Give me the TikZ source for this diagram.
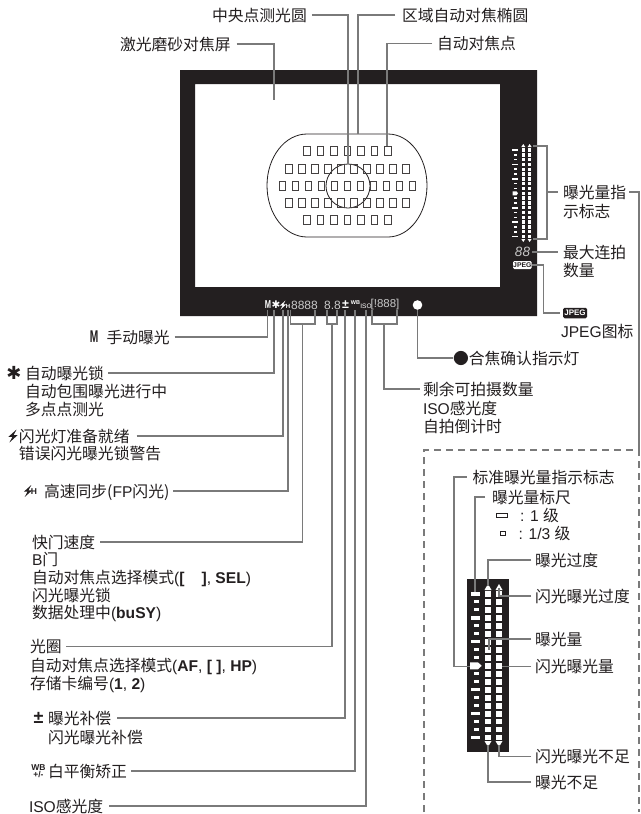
\documentclass[tikz,border=0pt]{standalone}
\usepackage{fontspec}
\setmainfont{Liberation Sans}
\newfontfamily\cjk{Noto Sans CJK SC}
\newfontfamily\dejavu{DejaVu Sans}
\newcommand{\C}[1]{{\cjk\fontsize{15.8}{18}\selectfont #1}}
\newcommand{\mybar}[5][white]{\fill[#1] ({#2-#4/2},{#3-#5/2}) rectangle ({#2+#4/2},{#3+#5/2});}
\newcommand{\mybolt}[4][ink]{\fill[#1] ({#2+.55*#4},{#3-#4}) -- ({#2-.7*#4},{#3+.12*#4}) -- ({#2-.08*#4},{#3+.12*#4}) -- ({#2-.55*#4},{#3+#4}) -- ({#2+.7*#4},{#3-.12*#4}) -- ({#2+.08*#4},{#3-.12*#4}) -- cycle;}
\definecolor{ink}{HTML}{231F20}
\definecolor{wire}{HTML}{7A7A7A}
\definecolor{seg}{HTML}{C8C8C8}
\tikzset{
  lab/.style={anchor=west,inner sep=0pt,outer sep=0pt,text=ink,text height=13.9pt,text depth=1.9pt,
    font=\fontsize{15.6}{18}\selectfont},
  conn/.style={draw=wire,line width=1.2pt},
  icon/.style={inner sep=0pt,outer sep=0pt,text=ink},
  lcd/.style={inner sep=0pt,outer sep=0pt,text=seg,font=\fontsize{12}{12}\selectfont},
  lcdw/.style={inner sep=0pt,outer sep=0pt,text=white},
  afp/.style={draw=ink!85,line width=.8pt},
}
\begin{document}
\begin{tikzpicture}[x=1pt,y=-1pt]
\useasboundingbox (0,0) rectangle (640,814);
\fill[white] (0,0) rectangle (640,814);
% viewfinder frame
\fill[ink,even odd rule] (180,70) rectangle (537,316) (195,84) rectangle (500,287);
% oval and points
\draw[ink,line width=.8pt] (307,134) -- (388,134) arc[start angle=-90,end angle=90,x radius=39,y radius=51.5]
   -- (307,237) arc[start angle=90,end angle=270,x radius=40,y radius=51.5] -- cycle;
\node[circle,draw=ink,line width=.8pt,minimum size=44pt,inner sep=0pt,outer sep=0pt] (circ) at (348,186) {};
\foreach \r/\n/\s in {151/7/307,169/10/289,186/11/282.3,203/10/289,220/7/307}{
  \foreach \i in {1,...,\n}{
    \draw[afp] ({\s+(\i-1)*(\n==7?13.45:13)-3.2},\r-4.8) rectangle ++(6.4,9.6);
  }
}
\coordinate (ovalTop) at (358,134);
\coordinate (afPt) at (387,146);
\coordinate (screen) at (274,100);
% meter in frame
\foreach \i in {0,...,18}{
  \pgfmathsetmacro\yy{150+4.81*\i}
  \pgfmathtruncatemacro\m{mod(\i,3)}
  \mybar{523.3}{\yy}{3.6}{3.4}
  \mybar{529.6}{\yy}{3.6}{3.4}
  \ifnum\i=9\relax
    \fill[white] (512.5,\yy-2) -- (516.5,\yy-2) -- (518,\yy) -- (516.5,\yy+2) -- (512.5,\yy+2) -- cycle;
  \else
    \ifnum\m=0\relax \mybar{515}{\yy}{5.4}{1.8} \else \mybar{515.5}{\yy}{3}{1.6} \fi
  \fi
}
\foreach \xx in {523.3,529.6}{
  \fill[white] (\xx-2,147) -- (\xx,144) -- (\xx+2,147) -- cycle;
  \fill[white] (\xx-2,239) -- (\xx,242) -- (\xx+2,239) -- cycle;
}
\node[lcd,font=\fontsize{13.5}{13.5}\selectfont\itshape] (iBurst) at (522.5,252) {88};
\node[fill=white,rounded corners=1.2pt,inner sep=0pt,minimum width=18.5pt,minimum height=8pt,text=ink,
   font=\fontsize{6.8}{7}\selectfont\bfseries] (iJpeg) at (522.3,265) {JPEG};
% bottom LCD
\node[lcdw,font=\fontsize{11.5}{10}\selectfont\bfseries] (iM) at (268,305) {\scalebox{.65}[1]{M}};
\node[lcdw,font=\dejavu\fontsize{10.5}{9}\selectfont] (iStar) at (276,305) {✱};
\mybolt[white]{283}{305}{4.5}
\node[lcdw,font=\fontsize{6}{6}\selectfont\bfseries] (iH) at (288,306.5) {H};
\node[lcd] (iShut) at (304.5,305) {8888};
\node[lcd] (iAper) at (332.5,305) {8.8};
\node[lcdw,font=\fontsize{12.5}{11}\selectfont\bfseries] (iComp) at (345.5,305) {±};
\node[lcdw,font=\fontsize{5.5}{5.5}\selectfont\bfseries] (iWB) at (355.5,303) {WB};
\node[lcdw,font=\fontsize{6.5}{6.5}\selectfont] (iIso) at (366,306) {ISO};
\node[lcd,font=\fontsize{11.5}{11.5}\selectfont] (iCnt) at (385,305) {[!888]};
\node[circle,fill=white,minimum size=9.6pt,inner sep=0pt,outer sep=0pt] (iDot) at (417.5,305) {};
% anchor coordinates on the frame
\coordinate (cM) at (267.5,310);
\coordinate (cStar) at (274,310);
\coordinate (cFlash) at (283,310);
\coordinate (cH) at (288,310);
\coordinate (cShutL) at (290.7,310);
\coordinate (cShutR) at (315,310);
\coordinate (cShutM) at (302.5,324);
\coordinate (cAperL) at (327,310);
\coordinate (cAperR) at (337,310);
\coordinate (cAperM) at (332,324);
\coordinate (cComp) at (345,310);
\coordinate (cWB) at (355,310);
\coordinate (cIso) at (366,310);
\coordinate (cCntL) at (372,310);
\coordinate (cCntR) at (397,310);
\coordinate (cCntM) at (384,324);
\coordinate (mTop) at (533,146);
\coordinate (mBot) at (533,239);
\coordinate (mMid) at (547,192);
% top labels
\node[lab] (lMetC) at (212,15) {\C{中央点测光圆}};
\node[lab] (lZone) at (402,15) {\C{区域自动对焦椭圆}};
\node[lab] (lAf) at (437,43.5) {\C{自动对焦点}};
\node[lab] (lScr) at (120,44) {\C{激光磨砂对焦屏}};
\draw[conn] ([xshift=5pt]lMetC.east) -| (circ.north);
\draw[conn] ([xshift=-7pt]lZone.west) -| (ovalTop);
\draw[conn] ([xshift=-5pt]lAf.west) -| (afPt);
\draw[conn] ([xshift=6pt]lScr.east) -| (screen);
% right labels
\node[lab] (lExp) at (563,192) {\C{曝光量指}};
\node[lab] at (563,211) {\C{示标志}};
\node[lab] (lBurst) at (563,252) {\C{最大连拍}};
\node[lab] at (563,270) {\C{数量}};
\node[fill=ink,rounded corners=1.5pt,inner sep=0pt,minimum width=24pt,minimum height=10.5pt,text=white,
   font=\fontsize{8}{8}\selectfont\bfseries] (lJpegI) at (575,313) {JPEG};
\node[lab] at (561,331) {JPEG\C{图标}};
\draw[conn] (mTop) -| (mMid) |- (mBot);
\draw[conn] (mMid) -- ([xshift=-5pt]lExp.west);
\draw[conn] (iBurst.east |- lBurst.west) ++(2pt,0) -- ([xshift=-5pt]lBurst.west);
\draw[conn] (iJpeg.east) -- ++(12pt,0) |- ([xshift=-3pt]lJpegI.west);
% exposure label to inset
\coordinate (dashTR) at (639,450);
\draw[conn] ([xshift=3pt]lExp.east) -| (dashTR);
\draw[wire,line width=1.1pt,dash pattern=on 7pt off 5pt] (424,812) -- (424,450) -- (dashTR) -- (639,812);
% left labels
\node[icon,font=\fontsize{17}{14}\selectfont\bfseries] (iMl) at (94,337) {\scalebox{.6}[1]{M}};
\node[lab] (lM) at (106.5,337) {\C{手动曝光}};
\draw[conn] ([xshift=5pt]lM.east) -| (cM);
\node[icon,font=\dejavu\fontsize{18}{14}\selectfont] (iSl) at (14,372.5) {✱};
\node[lab] (lAe) at (25,373) {\C{自动曝光锁}};
\node[lab] at (25,391) {\C{自动包围曝光进行中}};
\node[lab] at (25,409) {\C{多点点测光}};
\draw[conn] ([xshift=4pt]lAe.east) -| (cStar);
\mybolt{13}{436}{6.5}
\node[lab] (lFl) at (19,436) {\C{闪光灯准备就绪}};
\node[lab] at (19,453) {\C{错误闪光曝光锁警告}};
\draw[conn] ([xshift=7pt]lFl.east) -| (cFlash);
\mybolt{28}{491}{6}
\node[icon,font=\fontsize{8.5}{8}\selectfont\bfseries] (iFpH) at (34,492) {H};
\node[lab] (lFp) at (44,491) {\C{高速同步(}FP\C{闪光)}};
\draw[conn] ([xshift=4pt]lFp.east) -| (cH);
\node[lab] (lTv) at (32,542) {\C{快门速度}};
\node[lab] at (32,559.5) {B\C{门}};
\node[lab] at (32,577) {\C{自动对焦点选择模式}(\textbf{[}\hspace{17pt}\textbf{]}, \textbf{SEL})};
\node[lab] at (32,595) {\C{闪光曝光锁}};
\node[lab] at (32,612.5) {\C{数据处理中}(\textbf{buSY})};
\draw[conn] ([xshift=5pt]lTv.east) -| (cShutM);
\node[lab] (lAv) at (30,646.5) {\C{光圈}};
\node[lab] at (30,665.5) {\C{自动对焦点选择模式}(\textbf{AF}, \textbf{[ ]}, \textbf{HP})};
\node[lab] at (30,683) {\C{存储卡编号}(\textbf{1}, \textbf{2})};
\draw[conn] ([xshift=4.5pt]lAv.east) -| (cAperM);
\node[icon,font=\fontsize{18}{15}\selectfont\bfseries] (iCl) at (38.5,718) {±};
\node[lab] (lCo) at (48,718) {\C{曝光补偿}};
\node[lab] at (48,737) {\C{闪光曝光补偿}};
\draw[conn] ([xshift=6pt]lCo.east) -| (cComp);
\node[icon,font=\fontsize{8.5}{7.5}\selectfont\bfseries,align=center] (iWl) at (38.5,771) {WB\\+/-};
\node[lab] (lWb) at (48,771) {\C{白平衡矫正}};
\draw[conn] ([xshift=4pt]lWb.east) -| (cWB);
\node[lab] (lIso) at (29,806) {ISO\C{感光度}};
\draw[conn] ([xshift=6pt]lIso.east) -| (cIso);
% brackets under the LCD
\draw[conn] (cShutL) |- (cShutM) -| (cShutR);
\draw[conn] (cAperL) |- (cAperM) -| (cAperR);
\draw[conn] (cCntL) |- (cCntM) -| (cCntR);
% lower right labels
\node[lab] (lCnt) at (423,389) {\C{剩余可拍摄数量}};
\node[lab] at (423,408) {ISO\C{感光度}};
\node[lab] at (423,426.5) {\C{自拍倒计时}};
\draw[conn] ([xshift=-3pt]lCnt.west) -| (cCntM);
\node[lab] (lFoc) at (453,358) {\C{●合焦确认指示灯}};
\draw[conn] (iDot.south) |- (lFoc.west);
% inset
\fill[ink] (466.7,579) rectangle (509,751.7);
\foreach \i in {0,...,18}{
  \pgfmathsetmacro\yy{594+7.98*\i}
  \pgfmathtruncatemacro\m{mod(\i,3)}
  \mybar{488}{\yy}{5.6}{5.6}
  \mybar{499}{\yy}{5.6}{5.6}
  \ifnum\i=9\relax
    \fill[white] (470,\yy-3.5) -- (478,\yy-3.5) -- (481.7,\yy) -- (478,\yy+3.5) -- (470,\yy+3.5) -- cycle;
  \else
    \ifnum\m=0\relax \mybar{475}{\yy}{9}{3.2} \else \mybar{476.5}{\yy}{4.6}{3} \fi
  \fi
}
\foreach \xx in {488,499}{
  \fill[white] (\xx-3.5,590) -- (\xx,584) -- (\xx+3.5,590) -- cycle;
  \fill[white] (\xx-3.5,741) -- (\xx,747) -- (\xx+3.5,741) -- cycle;
}
\coordinate (tStd) at (470,666.5);
\coordinate (tScale) at (475,592);
\coordinate (tOver) at (488,586);
\coordinate (tFOver) at (499,588);
\coordinate (tFOverC) at (499,596);
\coordinate (tQty) at (489,650);
\coordinate (tFQty) at (501.5,666.5);
\coordinate (tFUnder) at (499,745);
\coordinate (tUnder) at (488,745);
\node[lab] (lStd) at (472.5,477) {\C{标准曝光量指示标志}};
\node[lab] (lSc) at (492,497) {\C{曝光量标尺}};
\node[draw=ink,line width=.7pt,minimum width=11pt,minimum height=4pt,inner sep=0pt] (k1) at (502.3,515) {};
\node[lab] at (520,515) {: 1 \C{级}};
\node[draw=ink,line width=.7pt,minimum width=4.5pt,minimum height=4pt,inner sep=0pt] (k2) at (503,533) {};
\node[lab] at (518.5,533) {: 1/3 \C{级}};
\node[lab] (lOv) at (535,560) {\C{曝光过度}};
\node[lab] (lFOv) at (535,596) {\C{闪光曝光过度}};
\node[lab] (lQt) at (535,639) {\C{曝光量}};
\node[lab] (lFQt) at (535,666.5) {\C{闪光曝光量}};
\node[lab] (lFUn) at (535,756.5) {\C{闪光曝光不足}};
\node[lab] (lUn) at (535,782) {\C{曝光不足}};
\draw[conn] ([xshift=-6pt]lStd.west) -| (454,666.5) -- (tStd);
\draw[conn] ([xshift=-7pt]lSc.west) -| (tScale);
\draw[conn] ([xshift=-4pt]lOv.west) -| (tOver);
\draw[conn] ([xshift=-4pt]lFOv.west) -- (tFOverC) -- (tFOver);
\draw[conn] ([xshift=-4pt]lQt.west) -| (tQty);
\draw[conn] ([xshift=-4pt]lFQt.west) -- (tFQty);
\draw[conn] ([xshift=-4pt]lFUn.west) -| (tFUnder);
\draw[conn] ([xshift=-4pt]lUn.west) -| (tUnder);
\end{tikzpicture}
\end{document}
